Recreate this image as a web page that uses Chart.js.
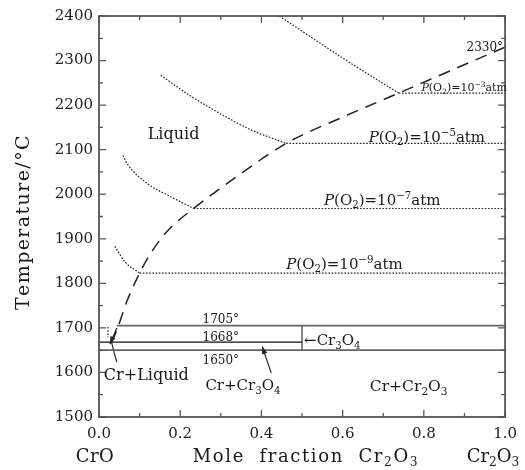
<!DOCTYPE html>
<html>
<head>
<meta charset="utf-8">
<script src="https://cdn.jsdelivr.net/npm/chart.js@4/dist/chart.umd.min.js"></script>
<style>
  body { margin: 0; background: #fff; }
</style>
</head>
<body>
<canvas id="myChart" width="525" height="470"></canvas>
<script>
// liquidus boundary (dashed), mole fraction Cr2O3 vs temperature
const boundaryX = [0.031, 0.044, 0.068, 0.100, 0.132, 0.172, 0.233, 0.346, 0.461, 0.600, 0.738, 0.870, 1.000];
const boundaryT = [1668, 1695, 1758, 1823, 1874, 1921, 1968, 2044, 2114, 2173, 2227, 2279, 2330];

// liquidus at fixed oxygen pressure (dotted), curved part
const p9X = [0.039, 0.064, 0.100];
const p9T = [1883, 1848, 1823];
const p7X = [0.059, 0.069, 0.125, 0.167, 0.233];
const p7T = [2087, 2069, 2020, 1999, 1968];
const p5X = [0.152, 0.223, 0.328, 0.378, 0.461];
const p5T = [2267, 2222, 2166, 2143, 2114];
const p3X = [0.444, 0.608, 0.738];
const p3T = [2400, 2301, 2227];

// invariant temperatures (solid)
const isoT = [1705, 1668, 1650];
const isoFrom = [0.044, 0.0, 0.0];
const isoTo = [1.0, 0.5, 1.0];
const cr3o4X = 0.5;

// short solid tail below the boundary end
const tailX = [0.031, 0.037, 0.044];
const tailT = [1668, 1645, 1623];

const xTickValues = [0, 0.2, 0.4, 0.6, 0.8, 1.0];
const yTickValues = [1500, 1600, 1700, 1800, 1900, 2000, 2100, 2200, 2300, 2400];

const FONT = '"DejaVu Serif", serif';
const INK = '#2a2a2a';

function pts(xs, ys) {
  return xs.map((x, i) => ({ x: x, y: ys[i] }));
}

function line(data, opt) {
  return Object.assign({
    data: data,
    showLine: true,
    pointRadius: 0,
    borderColor: INK,
    borderWidth: 1.1,
    fill: false
  }, opt || {});
}

const dotted = { borderDash: [1.6, 1.6], borderWidth: 1.2, borderColor: '#222' };
const curved = { cubicInterpolationMode: 'monotone' };

var datasets = [
  line(pts(boundaryX, boundaryT), Object.assign({ borderDash: [12, 8], borderWidth: 1.5, borderColor: '#222' }, curved)),
  line(pts(p9X, p9T), Object.assign({}, dotted, curved)),
  line(pts(p7X, p7T), Object.assign({}, dotted, curved)),
  line(pts(p5X, p5T), Object.assign({}, dotted, curved)),
  line(pts(p3X, p3T), Object.assign({}, dotted, curved)),
];
// horizontal P(O2) lines from each knee to x = 1
[[p9X, p9T], [p7X, p7T], [p5X, p5T], [p3X, p3T]].forEach(function (c) {
  var kx = c[0][c[0].length - 1], kt = c[1][c[1].length - 1];
  datasets.push(line([{ x: kx, y: kt }, { x: 1.0, y: kt }], dotted));
});
isoT.forEach(function (t, i) {
  datasets.push(line([{ x: isoFrom[i], y: t }, { x: isoTo[i], y: t }],
    { borderColor: i === 1 ? '#111' : '#666', borderWidth: i === 1 ? 1.2 : 1.8 }));
});
datasets.push(line([{ x: cr3o4X, y: isoT[2] }, { x: cr3o4X, y: isoT[0] }], { borderColor: '#333', borderWidth: 1.2 }));
datasets.push(line(pts(tailX, tailT), Object.assign({ borderWidth: 1.2 }, curved)));
datasets.push(line([{ x: 0.022, y: 1702 }, { x: 0.022, y: 1679 }], dotted));

// text drawn in data coordinates: [x, T, parts, size, align]
const notes = [
  [0.120, 2137, [['Liquid', '']], 16, 'left'],
  [0.995, 2331, [['2330°', '']], 12, 'right'],
  [0.794, 2240, [['P', 'i'], ['(O', ''], ['2', 'sub'], [')=10', ''], ['−3', 'sup'], ['atm', '']], 11, 'left'],
  [0.664, 2130, [['P', 'i'], ['(O', ''], ['2', 'sub'], [')=10', ''], ['−5', 'sup'], ['atm', '']], 15, 'left'],
  [0.554, 1989, [['P', 'i'], ['(O', ''], ['2', 'sub'], [')=10', ''], ['−7', 'sup'], ['atm', '']], 15, 'left'],
  [0.461, 1845, [['P', 'i'], ['(O', ''], ['2', 'sub'], [')=10', ''], ['−9', 'sup'], ['atm', '']], 15, 'left'],
  [0.255, 1720, [['1705°', '']], 12, 'left'],
  [0.255, 1680, [['1668°', '']], 12, 'left'],
  [0.255, 1628, [['1650°', '']], 12, 'left'],
  [0.012, 1596, [['Cr+Liquid', '']], 16, 'left'],
  [0.505, 1673, [['←Cr', ''], ['3', 'sub'], ['O', ''], ['4', 'sub']], 15, 'left'],
  [0.262, 1572, [['Cr+Cr', ''], ['3', 'sub'], ['O', ''], ['4', 'sub']], 15, 'left'],
  [0.667, 1570, [['Cr+Cr', ''], ['2', 'sub'], ['O', ''], ['3', 'sub']], 15.5, 'left'],
];

// arrows: from -> to, in data coordinates
const arrows = [
  [0.044, 1700, 0.027, 1664],
  [0.424, 1599, 0.402, 1658],
];

function drawRich(ctx, parts, x, y, size, align, spacing) {
  spacing = spacing || 0;
  var segs = parts.map(function (p) {
    var small = p[1] === 'sub' || p[1] === 'sup';
    var fs = small ? size * 0.68 : size;
    var font = (p[1] === 'i' ? 'italic ' : '') + fs + 'px ' + FONT;
    ctx.font = font;
    var w = 0;
    for (var ch of p[0]) w += ctx.measureText(ch).width + spacing;
    var dy = p[1] === 'sub' ? size * 0.22 : (p[1] === 'sup' ? -size * 0.4 : 0);
    return { t: p[0], font: font, w: w, dy: dy };
  });
  var total = segs.reduce(function (a, s) { return a + s.w; }, 0);
  var cx = align === 'center' ? x - total / 2 : (align === 'right' ? x - total : x);
  var base = y + size * 0.36;
  ctx.textAlign = 'left';
  ctx.textBaseline = 'alphabetic';
  segs.forEach(function (s) {
    ctx.font = s.font;
    for (var ch of s.t) {
      ctx.fillText(ch, cx, base + s.dy);
      cx += ctx.measureText(ch).width + spacing;
    }
  });
}

const decor = {
  id: 'decor',
  afterDatasetsDraw: function (chart) {
    var ctx = chart.ctx, xs = chart.scales.x, ys = chart.scales.y, a = chart.chartArea;
    ctx.save();
    // frame
    ctx.strokeStyle = '#555';
    ctx.lineWidth = 1.8;
    ctx.strokeRect(a.left, a.top, a.right - a.left, a.bottom - a.top);
    // inward ticks on all sides
    ctx.lineWidth = 1.3;
    ctx.beginPath();
    for (var i = 0; i <= 10; i++) {
      var px = xs.getPixelForValue(i / 10), len = i % 2 === 0 ? 7 : 4;
      ctx.moveTo(px, a.bottom); ctx.lineTo(px, a.bottom - len);
      ctx.moveTo(px, a.top); ctx.lineTo(px, a.top + len);
    }
    for (var t = 1500; t <= 2400; t += 50) {
      var py = ys.getPixelForValue(t), l2 = t % 100 === 0 ? 7 : 4;
      ctx.moveTo(a.left, py); ctx.lineTo(a.left + l2, py);
      ctx.moveTo(a.right, py); ctx.lineTo(a.right - l2, py);
    }
    ctx.stroke();

    // arrows
    ctx.strokeStyle = '#222';
    ctx.fillStyle = '#222';
    ctx.lineWidth = 1.2;
    arrows.forEach(function (ar) {
      var x1 = xs.getPixelForValue(ar[0]), y1 = ys.getPixelForValue(ar[1]);
      var x2 = xs.getPixelForValue(ar[2]), y2 = ys.getPixelForValue(ar[3]);
      ctx.beginPath(); ctx.moveTo(x1, y1); ctx.lineTo(x2, y2); ctx.stroke();
      var ang = Math.atan2(y2 - y1, x2 - x1), h = 8;
      ctx.beginPath();
      ctx.moveTo(x2, y2);
      ctx.lineTo(x2 - h * Math.cos(ang - 0.35), y2 - h * Math.sin(ang - 0.35));
      ctx.lineTo(x2 - h * Math.cos(ang + 0.35), y2 - h * Math.sin(ang + 0.35));
      ctx.closePath(); ctx.fill();
    });

    // annotations
    ctx.fillStyle = '#1a1a1a';
    notes.forEach(function (n) {
      drawRich(ctx, n[2], xs.getPixelForValue(n[0]), ys.getPixelForValue(n[1]), n[3], n[4]);
    });

    // axis captions
    drawRich(ctx, [['CrO', '']], 95, 456, 18, 'center', 0.5);
    drawRich(ctx, [['Mole  fraction  Cr', ''], ['2', 'sub'], ['O', ''], ['3', 'sub']], 306, 456, 18, 'center', 1.6);
    drawRich(ctx, [['Cr', ''], ['2', 'sub'], ['O', ''], ['3', 'sub']], 493, 456, 18, 'center', 0);
    ctx.translate(22, 222);
    ctx.rotate(-Math.PI / 2);
    drawRich(ctx, [['Temperature/°C', '']], 0, 0, 19, 'center', 1.4);
    ctx.restore();
  }
};

var ctx = document.getElementById('myChart').getContext('2d');
window.myChart = new Chart(ctx, {
  type: 'scatter',
  data: { datasets: datasets },
  options: {
    responsive: false,
    animation: false,
    layout: { padding: { left: 0, right: 18, top: 16, bottom: 0 } },
    scales: {
      x: {
        type: 'linear',
        min: 0,
        max: 1,
        afterFit: function (s) { s.height = 53; },
        afterBuildTicks: function (s) { s.ticks = xTickValues.map(v => ({ value: v })); },
        grid: { display: false, drawTicks: false },
        border: { display: false },
        ticks: {
          padding: 8,
          color: '#222',
          font: { family: 'DejaVu Serif', size: 15 },
          callback: v => v.toFixed(1)
        }
      },
      y: {
        type: 'linear',
        min: 1500,
        max: 2400,
        afterFit: function (s) { s.width = 99; },
        afterBuildTicks: function (s) { s.ticks = yTickValues.map(v => ({ value: v })); },
        grid: { display: false, drawTicks: false },
        border: { display: false },
        ticks: {
          padding: 6,
          color: '#222',
          font: { family: 'DejaVu Serif', size: 15 },
          callback: v => String(v)
        }
      }
    },
    plugins: {
      legend: { display: false },
      tooltip: { enabled: false }
    }
  },
  plugins: [decor]
});
</script>
</body>
</html>
